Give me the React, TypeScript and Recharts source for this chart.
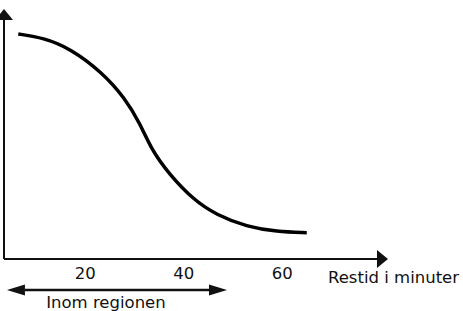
import React from 'react';
import { LineChart, Line, XAxis, YAxis, ReferenceLine } from 'recharts';

// Schematic curve: share of travellers vs. travel time (minutes)
const restid = [6.4, 11.5, 16.9, 23.3, 28.1, 31.1, 33.5, 36.9, 42.0, 46.7, 52.8, 58.9, 65.0];
const andel = [90.0, 88.5, 84.3, 74.9, 64.3, 54.3, 43.6, 34.3, 23.6, 17.6, 12.9, 10.9, 10.5];
const xTicks = [20, 40, 60];
const xDomain: [number, number] = [3.5, 81.5];
const yDomain: [number, number] = [0, 100];
const regionStart = 4.1;
const regionEnd = 48.8;
const regionLevel = -12.4;
const xAxisTitle = 'Restid i minuter';
const regionLabel = 'Inom regionen';

const data = restid.map((x, i) => ({ x, y: andel[i] }));

const FONT = "'DejaVu Sans', sans-serif";
const INK = '#111';

function arrowHead(tx: number, ty: number, dx: number, dy: number, len: number, half: number) {
  const bx = tx - dx * len;
  const by = ty - dy * len;
  const px = -dy * half;
  const py = dx * half;
  return `${tx},${ty} ${bx + px},${by + py} ${bx - px},${by - py}`;
}

const AxisArrow = (props: any) => {
  const { x1, y1, x2, y2, title } = props;
  const L = Math.hypot(x2 - x1, y2 - y1) || 1;
  const dx = (x2 - x1) / L;
  const dy = (y2 - y1) / L;
  const len = 11;
  return (
    <g>
      <line x1={x1} y1={y1} x2={x2 - dx * len} y2={y2 - dy * len} stroke={INK} strokeWidth={2} />
      <polygon points={arrowHead(x2, y2, dx, dy, len, 9)} fill={INK} />
      {title ? (
        <text x={x2 - 60} y={y1 + 24} fontFamily={FONT} fontSize={16.5} fill={INK} textAnchor="start">
          {title}
        </text>
      ) : null}
    </g>
  );
};

const DoubleArrow = (props: any) => {
  const { x1, y1, x2, y2, title } = props;
  const L = Math.hypot(x2 - x1, y2 - y1) || 1;
  const dx = (x2 - x1) / L;
  const dy = (y2 - y1) / L;
  const len = 18;
  return (
    <g>
      <line x1={x1 + dx * len} y1={y1 + dy * len} x2={x2 - dx * len} y2={y2 - dy * len} stroke={INK} strokeWidth={2.5} />
      <polygon points={arrowHead(x2, y2, dx, dy, len, 5.5)} fill={INK} />
      <polygon points={arrowHead(x1, y1, -dx, -dy, len, 5.5)} fill={INK} />
      <text x={x1 + (x2 - x1) * 0.45} y={y1 + 18} fontFamily={FONT} fontSize={16.5} fill={INK} textAnchor="middle">
        {title}
      </text>
    </g>
  );
};

export default function App() {
  return (
    <div style={{ position: 'absolute', left: 0, top: 0, background: '#fff' }}>
      <LineChart width={463} height={311} data={data} margin={{ top: 9, right: 75, bottom: 22, left: 4 }}>
        <XAxis
          dataKey="x"
          type="number"
          domain={xDomain}
          ticks={xTicks}
          interval={0}
          allowDataOverflow
          axisLine={false}
          tickLine={false}
          tickSize={0}
          tickMargin={8}
          height={30}
          tick={{ fill: INK, fontSize: 16.5, fontFamily: FONT }}
        />
        <YAxis hide type="number" domain={yDomain} allowDataOverflow width={0} />
        <ReferenceLine
          ifOverflow="visible"
          segment={[{ x: xDomain[0], y: yDomain[0] }, { x: xDomain[0], y: yDomain[1] }]}
          shape={(p: any) => <AxisArrow {...p} />}
        />
        <ReferenceLine
          ifOverflow="visible"
          segment={[{ x: xDomain[0], y: yDomain[0] }, { x: xDomain[1], y: yDomain[0] }]}
          shape={(p: any) => <AxisArrow {...p} title={xAxisTitle} />}
        />
        <ReferenceLine
          ifOverflow="visible"
          segment={[{ x: regionStart, y: regionLevel }, { x: regionEnd, y: regionLevel }]}
          shape={(p: any) => <DoubleArrow {...p} title={regionLabel} />}
        />
        <Line
          type="basis"
          dataKey="y"
          stroke="#000"
          strokeWidth={3.5}
          dot={false}
          activeDot={false}
          isAnimationActive={false}
        />
      </LineChart>
    </div>
  );
}
